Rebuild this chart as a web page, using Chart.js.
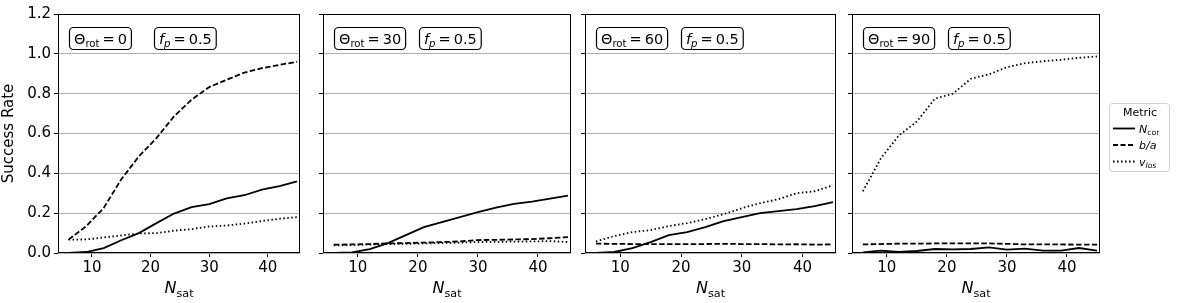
<!DOCTYPE html>
<html>
<head>
<meta charset="utf-8">
<script src="https://cdn.jsdelivr.net/npm/chart.js@4.4.1/dist/chart.umd.min.js"></script>
<style>
  html, body { margin: 0; padding: 0; background: #fff; }
  #wrap { position: relative; width: 1177px; height: 303px; overflow: hidden; }
  .pane { position: absolute; top: 0; height: 303px; }
</style>
</head>
<body>
<div id="wrap">
  <div class="pane" style="left:0px;width:302px"><canvas id="c0"></canvas></div>
  <div class="pane" style="left:313px;width:260px"><canvas id="c1"></canvas></div>
  <div class="pane" style="left:575px;width:263px"><canvas id="c2"></canvas></div>
  <div class="pane" style="left:842px;width:335px"><canvas id="c3"></canvas></div>
</div>
<script>
const nSat = [6, 9, 12, 15, 18, 21, 24, 27, 30, 33, 36, 39, 42, 45];
const rotations = [0, 30, 60, 90];
const xTicks = [10, 20, 30, 40];

// success rate per rotation angle, one array per metric
const nCor = [
  [0.0, 0.005, 0.025, 0.064, 0.1, 0.15, 0.198, 0.23, 0.245, 0.274, 0.29, 0.318, 0.336, 0.36],
  [0.0, 0.003, 0.02, 0.05, 0.09, 0.13, 0.155, 0.18, 0.205, 0.228, 0.247, 0.258, 0.273, 0.288],
  [0.0, 0.005, 0.025, 0.055, 0.09, 0.105, 0.13, 0.16, 0.18, 0.2, 0.21, 0.22, 0.235, 0.255],
  [0.003, 0.012, 0.005, 0.01, 0.02, 0.018, 0.02, 0.028, 0.017, 0.022, 0.012, 0.012, 0.025, 0.012]
];
const bOverA = [
  [0.067, 0.134, 0.226, 0.37, 0.485, 0.577, 0.686, 0.77, 0.833, 0.87, 0.906, 0.928, 0.945, 0.96],
  [0.042, 0.043, 0.045, 0.048, 0.05, 0.052, 0.055, 0.058, 0.065, 0.066, 0.068, 0.07, 0.074, 0.08],
  [0.047, 0.046, 0.045, 0.045, 0.045, 0.045, 0.045, 0.046, 0.045, 0.045, 0.043, 0.044, 0.042, 0.043],
  [0.043, 0.045, 0.047, 0.047, 0.048, 0.048, 0.048, 0.048, 0.046, 0.043, 0.043, 0.043, 0.042, 0.042]
];
const vLos = [
  [0.067, 0.068, 0.078, 0.088, 0.098, 0.1, 0.112, 0.12, 0.133, 0.138, 0.148, 0.16, 0.172, 0.18],
  [0.038, 0.04, 0.042, 0.045, 0.046, 0.048, 0.05, 0.052, 0.055, 0.056, 0.057, 0.058, 0.06, 0.055],
  [0.058, 0.085, 0.105, 0.115, 0.135, 0.15, 0.17, 0.195, 0.225, 0.25, 0.27, 0.3, 0.31, 0.34],
  [0.31, 0.475, 0.59, 0.66, 0.775, 0.8, 0.875, 0.897, 0.933, 0.953, 0.963, 0.97, 0.98, 0.987]
];
const fp = '0.5';

const FONT = "'DejaVu Sans', sans-serif";

// text made of pieces: {t, it (italic), sub, gap (extra px before)}
function richWidth(ctx, parts, size) {
  let w = 0;
  parts.forEach(p => {
    const s = p.sub ? size * 0.7 : size;
    ctx.font = (p.it ? 'italic ' : '') + s + 'px ' + FONT;
    w += ctx.measureText(p.t).width + (p.gap || 0);
  });
  return w;
}
function drawRich(ctx, parts, x, y, size) {
  ctx.textBaseline = 'alphabetic';
  ctx.textAlign = 'left';
  parts.forEach(p => {
    const s = p.sub ? size * 0.7 : size;
    ctx.font = (p.it ? 'italic ' : '') + s + 'px ' + FONT;
    x += p.gap || 0;
    ctx.fillText(p.t, x, p.sub ? y + size * 0.22 : y);
    x += ctx.measureText(p.t).width;
  });
}
function roundBox(ctx, x, y, w, h, r) {
  ctx.beginPath();
  ctx.moveTo(x + r, y);
  ctx.arcTo(x + w, y, x + w, y + h, r);
  ctx.arcTo(x + w, y + h, x, y + h, r);
  ctx.arcTo(x, y + h, x, y, r);
  ctx.arcTo(x, y, x + w, y, r);
  ctx.closePath();
}

const decor = {
  id: 'decor',
  afterDraw(chart, args, opts) {
    const ctx = chart.ctx;
    const a = chart.chartArea;
    ctx.save();
    // frame
    ctx.strokeStyle = '#000';
    ctx.lineWidth = 1;
    ctx.strokeRect(a.left + 0.5, a.top + 0.5, a.right - a.left - 1, a.bottom - a.top - 1);

    // annotation boxes
    const size = 14.5;
    const boxes = [
      { x: a.left + 11, parts: [{ t: 'Θ' }, { t: 'rot', sub: true }, { t: '=', gap: 3 }, { t: String(opts.rot), gap: 3 }] },
      { x: a.left + 96, parts: [{ t: 'f', it: true }, { t: 'p', it: true, sub: true }, { t: '=', gap: 3 }, { t: fp, gap: 3 }] }
    ];
    boxes.forEach(b => {
      const w = richWidth(ctx, b.parts, size) + 9;
      ctx.strokeStyle = '#000';
      ctx.lineWidth = 1.2;
      roundBox(ctx, b.x + 0.5, a.top + 13.5, w, 22, 4);
      ctx.fillStyle = '#fff';
      ctx.fill();
      ctx.stroke();
      ctx.fillStyle = '#000';
      drawRich(ctx, b.parts, b.x + 5, a.top + 30, size);
    });

    // x title
    const xt = [{ t: 'N', it: true }, { t: 'sat', sub: true }];
    const xw = richWidth(ctx, xt, 16);
    drawRich(ctx, xt, (a.left + a.right) / 2 - xw / 2, 293, 16);

    // legend
    if (opts.legend) {
      const lx = a.right + 9, ly = 103, lw = 60, lh = 68;
      ctx.strokeStyle = '#d0d0d0';
      ctx.lineWidth = 1;
      roundBox(ctx, lx + 0.5, ly + 0.5, lw, lh, 3);
      ctx.fillStyle = '#fff';
      ctx.fill();
      ctx.stroke();
      ctx.fillStyle = '#000';
      ctx.font = '11px ' + FONT;
      ctx.textAlign = 'center';
      ctx.fillText('Metric', lx + lw / 2 + 1, ly + 13);
      const rows = [
        { dash: [], parts: [{ t: 'N', it: true }, { t: 'cor', sub: true }] },
        { dash: [5, 2.5], parts: [{ t: 'b/a', it: true }] },
        { dash: [1.5, 2.5], parts: [{ t: 'v', it: true }, { t: 'los', it: true, sub: true }] }
      ];
      rows.forEach((r, i) => {
        const yy = ly + 25.5 + i * 16.5;
        ctx.strokeStyle = '#000';
        ctx.lineWidth = 1.8;
        ctx.setLineDash(r.dash);
        ctx.beginPath();
        ctx.moveTo(lx + 4, yy);
        ctx.lineTo(lx + 26, yy);
        ctx.stroke();
        ctx.setLineDash([]);
        drawRich(ctx, r.parts, lx + 30, yy + 4, 11);
      });
    }
    ctx.restore();
  }
};

function makeChart(i) {
  const first = i === 0;
  const last = i === rotations.length - 1;
  const yWidth = first ? 58 : 10;
  const lineStyle = (data, dash) => ({
    data: data.map((v, k) => ({ x: nSat[k], y: v })),
    borderColor: '#000',
    borderWidth: 1.8,
    borderDash: dash,
    borderCapStyle: 'butt',
    pointRadius: 0,
    tension: 0,
    fill: false
  });
  return new Chart(document.getElementById('c' + i), {
    type: 'line',
    data: {
      datasets: [
        lineStyle(nCor[i], []),
        lineStyle(bOverA[i], [5.5, 2.4]),
        lineStyle(vLos[i], [1.5, 2.5])
      ]
    },
    options: {
      responsive: true,
      maintainAspectRatio: false,
      animation: false,
      layout: { padding: { top: 14, right: last ? 77 : 2, left: 0, bottom: 0 } },
      plugins: {
        legend: { display: false },
        tooltip: { enabled: false },
        decor: { rot: rotations[i], legend: last }
      },
      scales: {
        x: {
          type: 'linear',
          min: 4.2,
          max: 45.5,
          afterBuildTicks: s => { s.ticks = xTicks.map(v => ({ value: v })); },
          afterFit: s => { s.height = 50; },
          grid: { drawOnChartArea: false, drawTicks: true, tickLength: 4, tickColor: '#000' },
          border: { display: false },
          ticks: { color: '#000', font: { family: FONT, size: 15 }, padding: 2, maxRotation: 0 }
        },
        y: {
          min: 0,
          max: 1.2,
          afterBuildTicks: s => {
            s.ticks = [0, 0.2, 0.4, 0.6, 0.8, 1.0, 1.2].map(v => ({ value: v }));
          },
          afterFit: s => { s.width = yWidth; },
          grid: { color: '#b0b0b0', lineWidth: 1, drawTicks: true, tickLength: 4, tickColor: '#000' },
          border: { display: false },
          ticks: {
            display: first,
            color: '#000',
            font: { family: FONT, size: 15 },
            padding: 3,
            callback: v => v.toFixed(1)
          },
          title: {
            display: first,
            text: 'Success Rate',
            color: '#000',
            font: { family: FONT, size: 15 },
            padding: { top: 0, bottom: 2 }
          }
        }
      }
    },
    plugins: [decor]
  });
}

rotations.forEach((r, i) => makeChart(i));
</script>
</body>
</html>
